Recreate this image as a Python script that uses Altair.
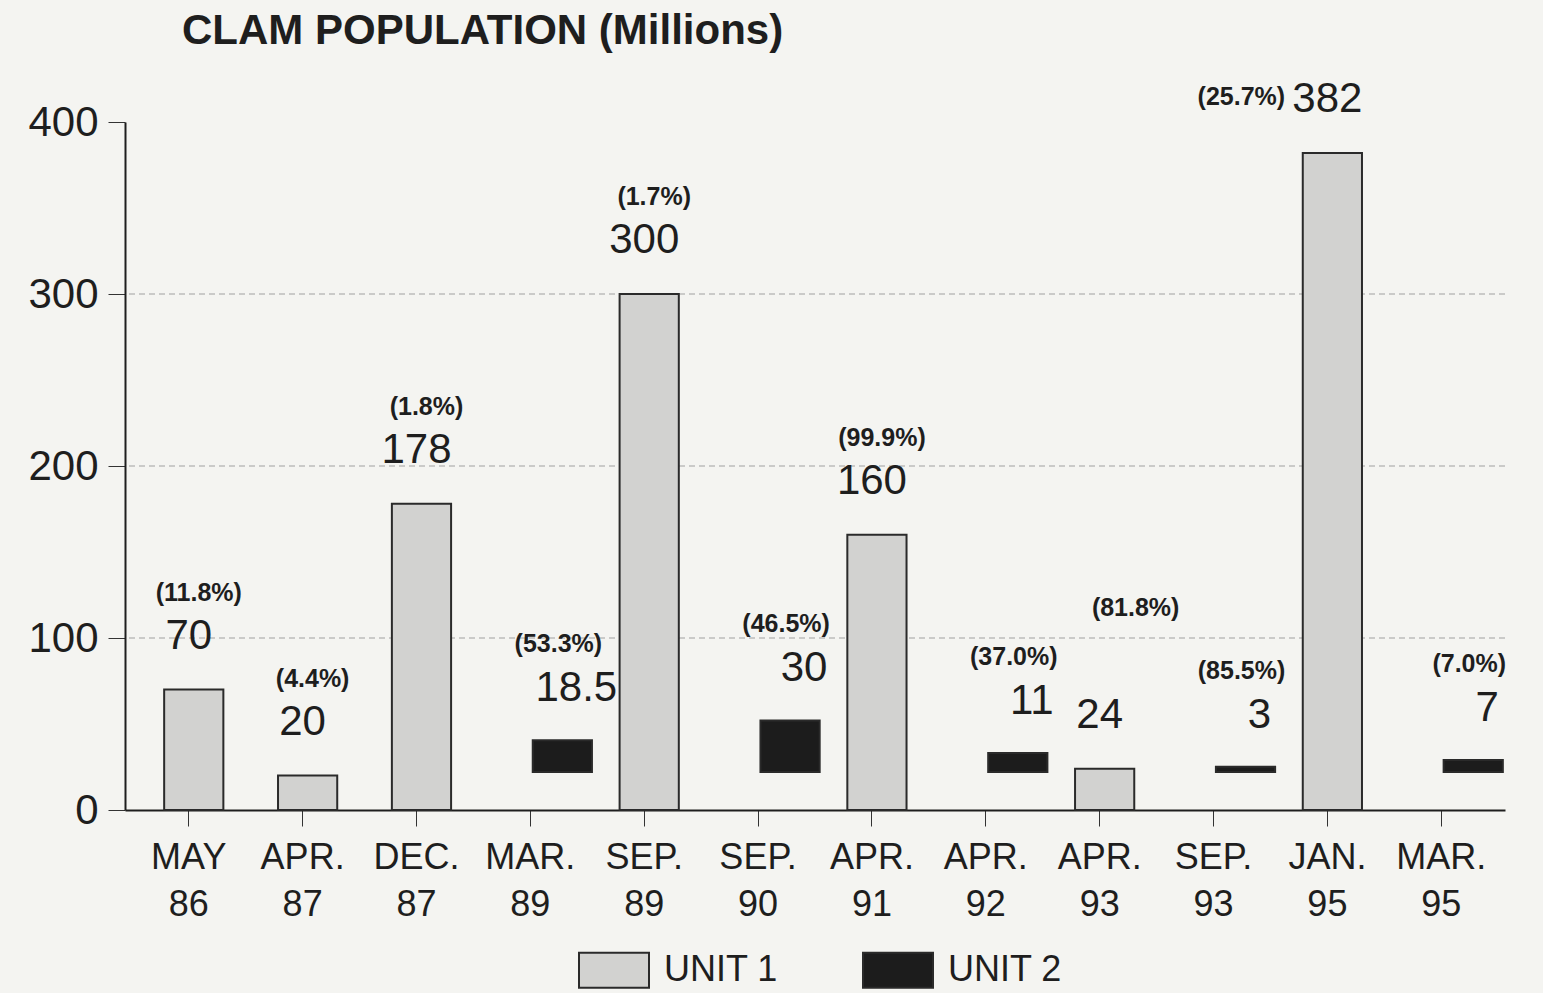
import altair as alt
import pandas as pd

categories = ["MAY|86", "APR.|87", "DEC.|87", "MAR.|89", "SEP.|89", "SEP.|90",
              "APR.|91", "APR.|92", "APR.|93", "SEP.|93", "JAN.|95", "MAR.|95"]
values = [70, 20, 178, 18.5, 300, 30, 160, 11, 24, 3, 382, 7]
value_labels = ["70", "20", "178", "18.5", "300", "30", "160", "11", "24", "3", "382", "7"]
units = ["UNIT 1", "UNIT 1", "UNIT 1", "UNIT 2", "UNIT 1", "UNIT 2",
         "UNIT 1", "UNIT 2", "UNIT 1", "UNIT 2", "UNIT 1", "UNIT 2"]
percents = ["(11.8%)", "(4.4%)", "(1.8%)", "(53.3%)", "(1.7%)", "(46.5%)",
            "(99.9%)", "(37.0%)", "(81.8%)", "(85.5%)", "(25.7%)", "(7.0%)"]
y_ticks = [0, 100, 200, 300, 400]
grid_values = [100, 200, 300]
title_text = "CLAM POPULATION (Millions)"

df = pd.DataFrame({"cat": categories, "value": values, "vlabel": value_labels,
                   "unit": units, "pct": percents})
grid_df = pd.DataFrame({"g": grid_values})

FONT = "Liberation Sans"
INK = "#1e1e1e"

yscale = alt.Scale(domain=[0, 400], nice=False)
x = alt.X("cat:N", sort=categories, title=None,
          scale=alt.Scale(paddingInner=0.48, paddingOuter=0.3),
          axis=alt.Axis(labelExpr="split(datum.label, '|')", labelAngle=0,
                        labelFontSize=36, labelFont=FONT, labelColor=INK,
                        labelLineHeight=47, labelPadding=14, tickSize=16,
                        tickColor="#333", domainColor=INK, domainWidth=2))
xs = alt.X("cat:N", sort=categories)
y = alt.Y("value:Q", title=None, scale=yscale,
          axis=alt.Axis(values=y_ticks, labelFontSize=42, labelFont=FONT,
                        labelColor=INK, tickSize=17, tickColor="#333",
                        domainColor=INK, domainWidth=2, labelPadding=10,
                        grid=False))

color = alt.Color("unit:N", title=None,
                  scale=alt.Scale(domain=["UNIT 1", "UNIT 2"],
                                  range=["#d2d2d0", "#1c1c1c"]),
                  legend=alt.Legend(orient="none", legendX=453, legendY=812,
                                    direction="horizontal",
                                    symbolType="M-1,-0.5H1V0.5H-1Z",
                                    symbolSize=4900, symbolStrokeColor="#2a2a2a",
                                    symbolStrokeWidth=2, labelFontSize=36,
                                    labelFont=FONT, labelColor=INK,
                                    columnPadding=80, labelOffset=14))

base = alt.Chart(df)
u1 = "datum.unit == 'UNIT 1'"
u2 = "datum.unit == 'UNIT 2'"
normal_pct = "datum.cat != 'JAN.|95' && datum.cat != 'APR.|93'"

grid = alt.Chart(grid_df).mark_rule(color="#a0a0a0", strokeDash=[6, 4],
                                    strokeWidth=1).encode(
    y=alt.Y("g:Q", scale=yscale))

bars1 = base.transform_filter(u1).mark_bar(
    stroke="#2a2a2a", strokeWidth=2, xOffset=5).encode(x=x, y=y, color=color)
bars2 = base.transform_filter(u2).mark_bar(
    stroke="#2a2a2a", strokeWidth=2, xOffset=32, yOffset=-38).encode(
    x=x, y=y, color=color)

v1 = base.transform_filter(u1).mark_text(
    fontSize=42, font=FONT, color=INK, dy=-54, baseline="middle").encode(
    x=xs, y="value:Q", text="vlabel:N")
v2 = base.transform_filter(u2).mark_text(
    fontSize=42, font=FONT, color=INK, dx=46, dy=-90, baseline="middle").encode(
    x=xs, y="value:Q", text="vlabel:N")
p1 = base.transform_filter(u1 + " && " + normal_pct).mark_text(
    fontSize=25, font=FONT, color=INK, fontWeight="bold", dx=10, dy=-97,
    baseline="middle").encode(x=xs, y="value:Q", text="pct:N")
p2 = base.transform_filter(u2).mark_text(
    fontSize=25, font=FONT, color=INK, fontWeight="bold", dx=28, dy=-134,
    baseline="middle").encode(x=xs, y="value:Q", text="pct:N")
p_jan = base.transform_filter("datum.cat == 'JAN.|95'").mark_text(
    fontSize=25, font=FONT, color=INK, fontWeight="bold", dx=-86, dy=-56,
    baseline="middle").encode(x=xs, y="value:Q", text="pct:N")
p_apr = base.transform_filter("datum.cat == 'APR.|93'").mark_text(
    fontSize=25, font=FONT, color=INK, fontWeight="bold", dx=36, dy=-161,
    baseline="middle").encode(x=xs, y="value:Q", text="pct:N")

title = alt.Chart(pd.DataFrame({"t": [title_text]})).mark_text(
    fontSize=42, font=FONT, fontWeight="bold", color=INK, align="left",
    baseline="middle").encode(x=alt.value(57), y=alt.value(-91), text="t:N")

chart = alt.layer(grid, bars1, bars2, v1, v2, p1, p2, p_jan, p_apr, title).properties(
    width=1380, height=688,
    background="#f4f4f1",
    padding={"left": 125, "top": 122, "right": 38, "bottom": 183},
    autosize=alt.AutoSizeParams(type="none"),
).configure_view(stroke=None)

chart.save("out.html", embed_options={"renderer": "svg", "actions": False})
